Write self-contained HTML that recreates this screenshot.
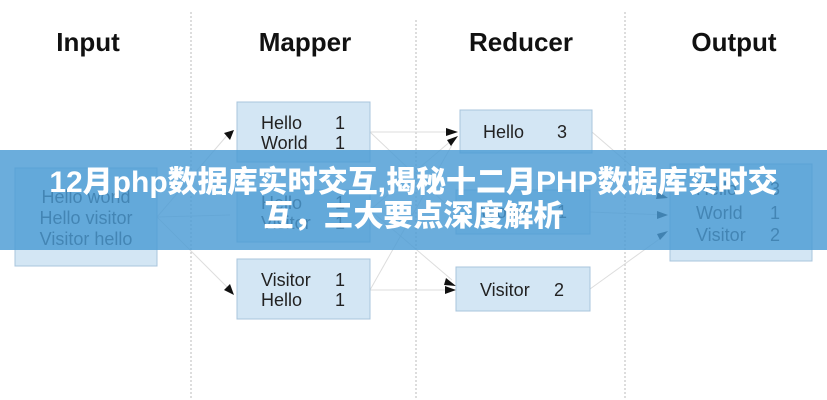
<!DOCTYPE html>
<html><head><meta charset="utf-8"><style>
html,body{margin:0;padding:0;width:827px;height:400px;overflow:hidden;background:#fff}
svg{position:absolute;left:0;top:0}
.h{font-family:"Liberation Sans",sans-serif;font-weight:bold;font-size:26px;fill:#111}
.t{font-family:"Liberation Sans",sans-serif;font-size:18px;fill:#222}
.box{fill:#d3e6f4;stroke:#a8c5dc;stroke-width:1}
.ln{stroke:#ddd;stroke-width:1;fill:none}
.banner{position:absolute;left:0;top:150px;width:827px;height:100px;background:rgba(75,155,212,0.82);color:#fff;font-family:"Liberation Sans","Noto Sans CJK SC",sans-serif;font-weight:900;font-size:30px;text-align:center;line-height:34px;padding-top:16px;box-sizing:border-box;white-space:nowrap}
</style></head><body>
<svg width="827" height="400">
<g stroke="#bbb" stroke-dasharray="2,2" stroke-width="1">
<line x1="191" y1="12" x2="191" y2="400"/><line x1="416" y1="20" x2="416" y2="400"/><line x1="625" y1="12" x2="625" y2="400"/></g>
<text class="h" x="88" y="51" text-anchor="middle">Input</text>
<text class="h" x="305" y="51" text-anchor="middle">Mapper</text>
<text class="h" x="521" y="51" text-anchor="middle">Reducer</text>
<text class="h" x="734" y="51" text-anchor="middle">Output</text>
<g class="ln">
<line x1="157" y1="217" x2="230" y2="132"/><line x1="157" y1="217" x2="230" y2="215"/><line x1="157" y1="217" x2="230" y2="290"/>
<line x1="370" y1="132" x2="452" y2="132"/><line x1="370" y1="132" x2="452" y2="210"/><line x1="370" y1="210" x2="452" y2="140"/><line x1="370" y1="290" x2="452" y2="290"/><line x1="370" y1="290" x2="452" y2="145"/><line x1="370" y1="210" x2="452" y2="280"/>
<line x1="592" y1="132" x2="665" y2="195"/><line x1="590" y1="212" x2="665" y2="215"/><line x1="590" y1="289" x2="665" y2="235"/>
</g>
<g fill="#111">
<polygon points="234,130 224,133 230,140"/><polygon points="234,295 224,290 230,284"/>
<polygon points="458,132 446,128 446,136"/><polygon points="458,136 447,140 451,146"/><polygon points="456,286 446,278 444,285"/><polygon points="456,290 445,286 445,294"/>
<polygon points="668,198 658,191 656,199"/><polygon points="668,215 657,211 657,219"/><polygon points="668,231 657,234 660,240"/>
</g>
<rect class="box" x="15" y="168" width="142" height="98"/>
<text class="t" x="86" y="203" text-anchor="middle">Hello world</text>
<text class="t" x="86" y="224" text-anchor="middle">Hello visitor</text>
<text class="t" x="86" y="245" text-anchor="middle">Visitor hello</text>
<rect class="box" x="237" y="102" width="133" height="60"/>
<text class="t" x="261" y="129">Hello</text><text class="t" x="335" y="129">1</text>
<text class="t" x="261" y="149">World</text><text class="t" x="335" y="149">1</text>
<rect class="box" x="237" y="190" width="133" height="52"/>
<text class="t" x="261" y="209">Hello</text><text class="t" x="335" y="209">1</text>
<text class="t" x="261" y="229">Visitor</text><text class="t" x="335" y="229">1</text>
<rect class="box" x="237" y="259" width="133" height="60"/>
<text class="t" x="261" y="286">Visitor</text><text class="t" x="335" y="286">1</text>
<text class="t" x="261" y="306">Hello</text><text class="t" x="335" y="306">1</text>
<rect class="box" x="460" y="110" width="132" height="43"/>
<text class="t" x="483" y="138">Hello</text><text class="t" x="557" y="138">3</text>
<rect class="box" x="456" y="190" width="134" height="44"/>
<text class="t" x="480" y="218">World</text><text class="t" x="557" y="218">1</text>
<rect class="box" x="456" y="267" width="134" height="44"/>
<text class="t" x="480" y="296">Visitor</text><text class="t" x="554" y="296">2</text>
<rect class="box" x="670" y="164" width="142" height="97"/>
<text class="t" x="696" y="195">Hello</text><text class="t" x="770" y="195">3</text>
<text class="t" x="696" y="219">World</text><text class="t" x="770" y="219">1</text>
<text class="t" x="696" y="241">Visitor</text><text class="t" x="770" y="241">2</text>
</svg>
<div class="banner">12月php数据库实时交互,揭秘十二月PHP数据库实时交<br>互，三大要点深度解析</div>
</body></html>
